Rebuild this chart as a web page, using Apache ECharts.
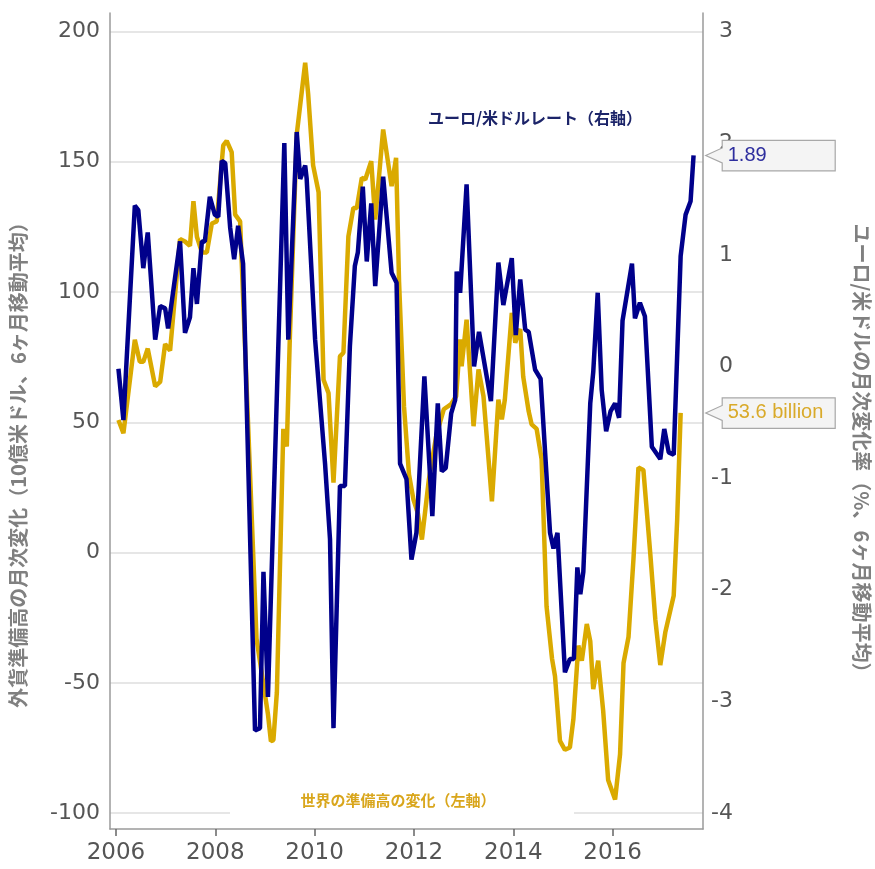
<!DOCTYPE html>
<html><head><meta charset="utf-8">
<script src="https://cdn.jsdelivr.net/npm/echarts@6/dist/echarts.min.js"></script>
<style>html,body{margin:0;padding:0;background:#fff}#c{width:875px;height:869px}</style>
</head><body><div id="c"></div>
<script>
// ---- data ----
const xTickYears = [2006, 2008, 2010, 2012, 2014, 2016];
const leftTicks = [-100, -50, 0, 50, 100, 150, 200];
const rightTicks = [-4, -3, -2, -1, 0, 1, 2, 3];

// 世界の準備高の変化（左軸）, 10億米ドル
const reserveYears = [2006.05,2006.15,2006.38,2006.48,2006.55,2006.64,2006.79,2006.89,2006.99,2007.09,
  2007.29,2007.39,2007.49,2007.56,2007.63,2007.73,2007.83,2007.93,2008.03,2008.16,2008.23,2008.33,2008.40,2008.50,
  2008.83,2009.06,2009.12,2009.17,2009.24,2009.37,2009.44,2009.50,2009.64,2009.81,2009.87,2009.97,2010.08,2010.18,
  2010.28,2010.38,2010.51,2010.58,2010.68,2010.78,2010.85,2010.95,2011.02,2011.14,2011.22,2011.38,2011.55,2011.64,
  2011.70,2011.80,2011.90,2011.99,2012.08,2012.16,2012.30,2012.45,2012.60,2012.75,2012.85,2012.93,2012.96,2013.06,
  2013.20,2013.30,2013.40,2013.57,2013.70,2013.77,2013.83,2013.97,2014.04,2014.10,2014.14,2014.20,2014.31,2014.37,
  2014.47,2014.57,2014.67,2014.78,2014.84,2014.94,2015.04,2015.14,2015.21,2015.31,2015.38,2015.48,2015.55,2015.61,
  2015.71,2015.81,2015.91,2016.05,2016.15,2016.22,2016.32,2016.42,2016.52,2016.62,2016.76,2016.86,2016.96,2017.06,
  2017.23,2017.30,2017.37];
const reserveValues = [50.9,45.8,81.7,73.2,73.2,78.3,63.8,65.5,80.0,77.5,
  120.3,119.4,117.7,134.9,121.2,115.2,115.2,126.3,127.1,156.3,158.0,153.7,129.7,127.1,
  -33.0,-62.0,-72.4,-72.0,-53.6,47.5,40.7,81.8,160.5,188.0,176.0,148.6,138.3,66.3,
  61.2,26.8,75.3,76.7,121.4,132.3,132.3,143.8,143.2,150.2,127.8,162.4,140.6,151.5,
  104.0,56.0,30.0,20.3,15.0,5.0,28.0,45.0,55.0,57.0,60.0,81.8,71.5,89.4,
  48.5,70.3,60.0,19.7,58.7,51.1,58.7,92.0,80.5,84.3,85.8,67.5,54.2,49.2,
  47.5,35.9,-20.7,-40.7,-47.4,-72.3,-75.7,-74.8,-64.0,-35.7,-41.5,-27.4,-34.0,-52.4,
  -41.5,-60.7,-87.3,-94.8,-77.4,-42.4,-32.4,-2.4,32.6,31.7,-0.8,-25.7,-43.2,-30.7,
  -16.6,12.6,53.6];

// ユーロ/米ドルレート（右軸）, %
const eurYears = [2006.05,2006.15,2006.38,2006.45,2006.55,2006.64,2006.79,2006.89,2006.99,2007.05,
  2007.29,2007.39,2007.49,2007.56,2007.63,2007.73,2007.79,2007.89,2007.99,2008.06,2008.13,2008.20,2008.30,2008.38,
  2008.46,2008.56,2008.80,2008.90,2008.97,2009.06,2009.39,2009.47,2009.64,2009.71,2009.81,2009.84,2010.01,2010.21,
  2010.31,2010.38,2010.51,2010.61,2010.71,2010.81,2010.87,2010.97,2011.05,2011.14,2011.22,2011.38,2011.55,2011.65,
  2011.72,2011.85,2011.95,2012.05,2012.21,2012.37,2012.48,2012.56,2012.64,2012.75,2012.83,2012.86,2012.93,2013.06,
  2013.21,2013.31,2013.55,2013.70,2013.80,2013.97,2014.05,2014.14,2014.24,2014.31,2014.44,2014.55,2014.74,2014.81,
  2014.89,2015.04,2015.14,2015.22,2015.29,2015.35,2015.41,2015.55,2015.61,2015.70,2015.78,2015.87,2015.96,2016.05,
  2016.13,2016.20,2016.39,2016.45,2016.55,2016.65,2016.79,2016.96,2017.04,2017.13,2017.23,2017.37,2017.47,2017.57,
  2017.63];
const eurValues = [-0.02,-0.48,1.44,1.40,0.88,1.20,0.24,0.54,0.52,0.34,
  1.12,0.30,0.44,0.88,0.56,1.12,1.12,1.52,1.36,1.34,1.84,1.82,1.24,0.96,
  1.26,0.92,-3.26,-3.24,-1.84,-2.96,2.00,0.24,2.10,1.68,1.80,1.68,0.24,-0.87,
  -1.55,-3.24,-1.07,-1.07,0.18,0.90,1.02,1.61,0.94,1.46,0.72,1.70,0.84,0.75,
  -0.87,-1.01,-1.73,-1.49,-0.09,-1.34,-0.33,-0.94,-0.91,-0.42,-0.30,0.85,0.66,1.63,
  0.00,0.31,-0.31,0.93,0.55,0.97,0.28,0.78,0.33,0.31,-0.03,-0.11,-1.49,-1.63,
  -1.49,-2.74,-2.62,-2.62,-1.80,-2.04,-1.84,-0.33,-0.05,0.66,-0.21,-0.58,-0.40,-0.33,
  -0.46,0.41,0.92,0.43,0.57,0.45,-0.72,-0.83,-0.56,-0.77,-0.79,0.99,1.36,1.48,
  1.89];

const leftTitle = '外貨準備高の月次変化（10億米ドル、6ヶ月移動平均）';
const rightTitle = 'ユーロ/米ドルの月次変化率（%、6ヶ月移動平均）';
const eurNote = 'ユーロ/米ドルレート（右軸）';
const reserveNote = '世界の準備高の変化（左軸）';

// ---- chart ----
const GOLD = '#DAAA00', NAVY = '#00008B';
const AX = '#9a9a9a', LBL = '#555555';
const numFont = 'DejaVu Sans';
const cjk = '"Noto Sans CJK JP", sans-serif';

const chart = echarts.init(document.getElementById('c'), null, {renderer: 'canvas'});
const zip = (xs, ys) => xs.map((x, i) => [x, ys[i]]);

chart.setOption({
  animation: false,
  grid: {left: 110, right: 172, top: 13, bottom: 40},
  xAxis: {
    type: 'value', min: 2005.88, max: 2017.82,
    axisLine: {show: true, onZero: false, lineStyle: {color: AX, width: 1.5}},
    axisTick: {show: true, customValues: xTickYears, length: 7, lineStyle: {color: '#666', width: 1.5}},
    axisLabel: {customValues: xTickYears, formatter: v => String(v), color: LBL, fontSize: 23, fontFamily: numFont, margin: 13},
    splitLine: {show: false}
  },
  yAxis: [
    {
      type: 'value', position: 'left', min: -106.1, max: 207.1,
      axisLine: {show: true, onZero: false, lineStyle: {color: AX, width: 1.5}},
      axisTick: {show: false, customValues: leftTicks},
      axisLabel: {customValues: leftTicks, formatter: v => String(v), color: LBL, fontSize: 22, fontFamily: numFont, margin: 10},
      splitLine: {show: true, lineStyle: {color: '#dedede', width: 1.5}}
    },
    {
      type: 'value', position: 'right', min: -4.1433, max: 3.1657,
      axisLine: {show: true, onZero: false, lineStyle: {color: AX, width: 1.5}},
      axisTick: {show: false, customValues: rightTicks},
      axisLabel: {customValues: rightTicks, formatter: v => String(v), color: LBL, fontSize: 22, fontFamily: numFont, margin: 30, align: 'right'},
      splitLine: {show: false}
    }
  ],
  series: [
    {name: reserveNote, type: 'line', yAxisIndex: 0, data: zip(reserveYears, reserveValues),
     showSymbol: false, lineStyle: {color: GOLD, width: 4.5}, itemStyle: {color: GOLD}, z: 3},
    {name: eurNote, type: 'line', yAxisIndex: 1, data: zip(eurYears, eurValues),
     showSymbol: false, lineStyle: {color: NAVY, width: 4.5}, itemStyle: {color: NAVY}, z: 4}
  ]
});

function callout(tipX, tipY, text, color) {
  return {
    type: 'group', x: tipX, y: tipY, z: 100,
    children: [
      {type: 'polygon', z: 100,
       shape: {points: [[0, 0], [16.5, -7.5], [16.5, -15], [129.5, -15], [129.5, 15.5], [16.5, 15.5], [16.5, 7.5]]},
       style: {fill: '#f4f4f4', stroke: '#a8a8a8', lineWidth: 1.2}},
      {type: 'text', z: 101, x: 22, y: 0,
       style: {text: text, fill: color, font: '20px "Liberation Sans", Arial, sans-serif', verticalAlign: 'middle', align: 'left'}}
    ]
  };
}

const axisRightX = chart.convertToPixel({xAxisIndex: 0}, 2017.82);
const lastEur = eurValues[eurValues.length - 1];
const lastRes = reserveValues[reserveValues.length - 1];
const eurY = chart.convertToPixel({yAxisIndex: 1}, lastEur);
const resY = chart.convertToPixel({yAxisIndex: 0}, lastRes);

chart.setOption({
  graphic: [
    {type: 'rect', z: 50, x: 230, y: 786, shape: {width: 344, height: 30}, style: {fill: '#fff'}},
    {type: 'text', z: 51, x: 398, y: 800,
     style: {text: reserveNote, fill: '#D9A61C', font: 'bold 15px ' + cjk, align: 'center', verticalAlign: 'middle'}},
    {type: 'text', z: 51, x: 535, y: 118,
     style: {text: eurNote, fill: '#1c2469', font: 'bold 16px ' + cjk, align: 'center', verticalAlign: 'middle'}},
    {type: 'text', z: 51, x: 18, y: 460, rotation: Math.PI / 2,
     style: {text: leftTitle, fill: '#808080', font: 'bold 20px ' + cjk, align: 'center', verticalAlign: 'middle'}},
    {type: 'text', z: 51, x: 862, y: 453, rotation: -Math.PI / 2,
     style: {text: rightTitle, fill: '#808080', font: 'bold 20px ' + cjk, align: 'center', verticalAlign: 'middle'}},
    callout(axisRightX + 2.7, eurY, String(lastEur), '#2e2e9e'),
    callout(axisRightX + 2.7, resY, String(lastRes) + ' billion', '#D9AA2A')
  ]
});
</script>
</body></html>
